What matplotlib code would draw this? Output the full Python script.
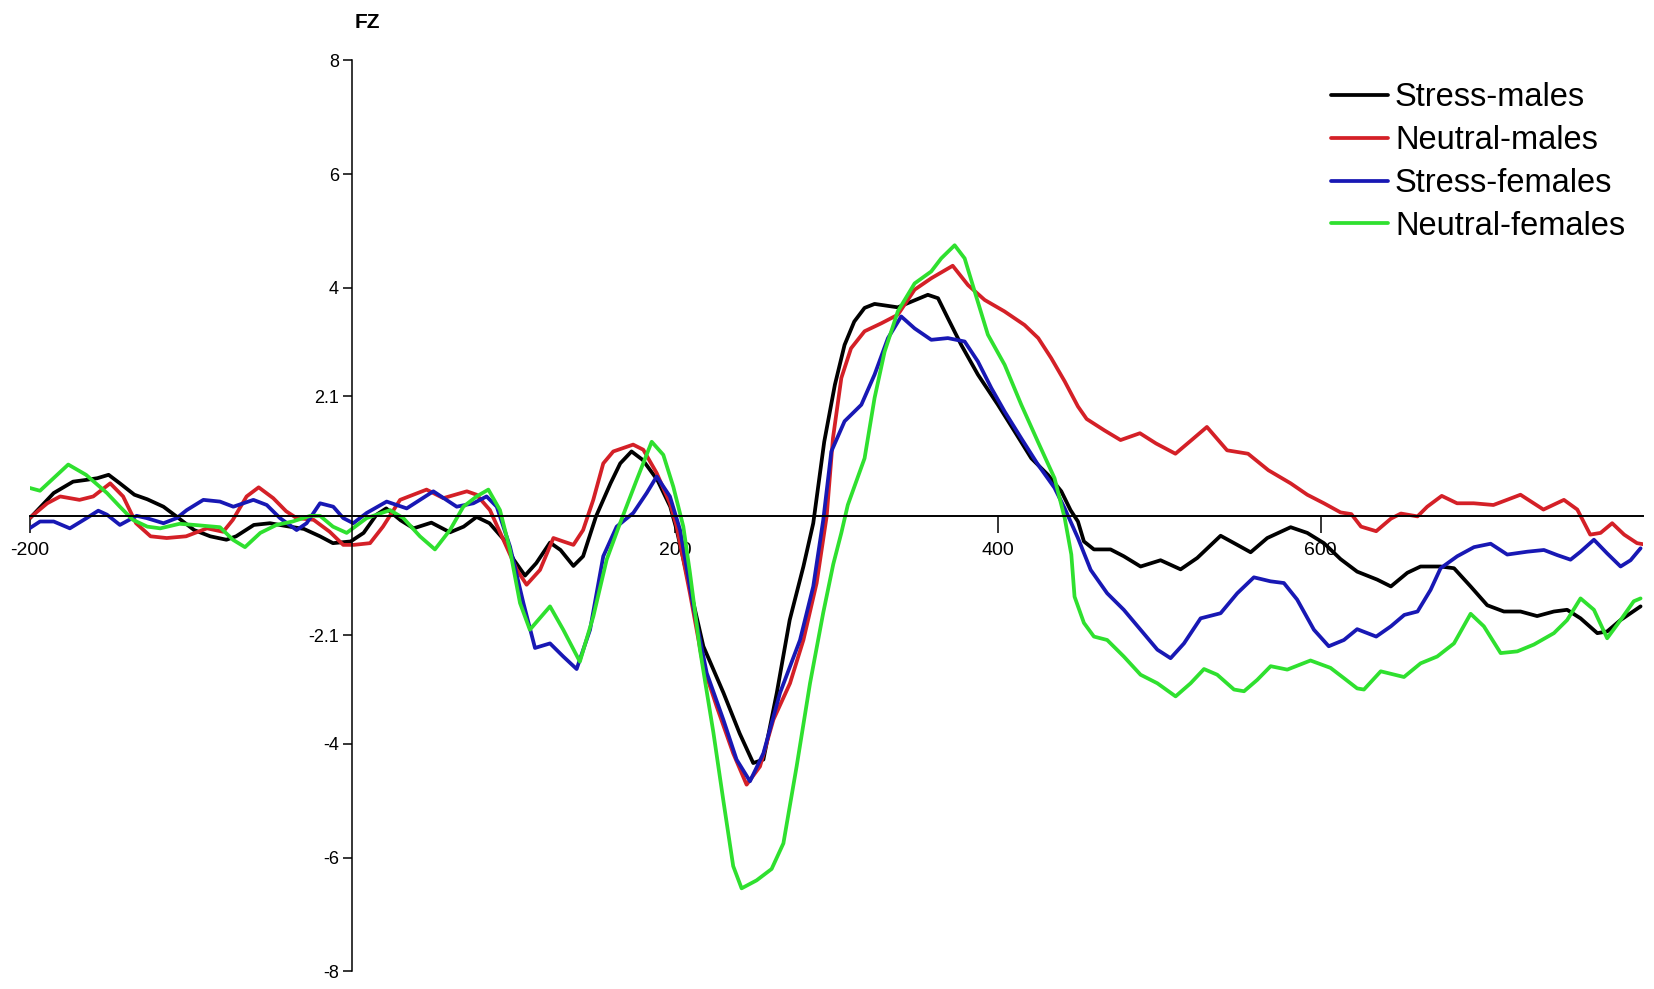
import matplotlib
matplotlib.use("Agg")
import matplotlib.pyplot as plt

plt.rcParams['font.family'] = ['Liberation Sans', 'DejaVu Sans']

# ERP at FZ, time in ms, amplitude in uV
t_stress_m = [-200, -185, -173, -165, -158, -151, -144, -135, -127, -117, -109, -98, -88, -78, -72,
              -61, -51, -41, -30, -20, -12, -1, 7, 15, 21, 30, 38, 49, 60.5, 69, 77, 85, 94, 100,
              107, 114, 122.5, 129, 137, 143, 151, 160, 166, 173, 180, 189, 197, 201, 209, 217.5,
              230, 240, 248.4, 254.7, 263, 271, 279.5, 285.6, 292.4, 299, 305, 311, 317.4, 323.6,
              338, 346.4, 356.6, 362.9, 369, 377.3, 387.6, 400, 410.4, 420.7, 431, 439.3, 445,
              449.6, 453.3, 459.5, 469.8, 478, 488.4, 500.8, 513.2, 523.5, 538, 548.3, 556.6,
              566.9, 581.4, 591.7, 602, 612.3, 622.6, 635, 643.5, 653.7, 661.9, 674.3, 682.6,
              692.9, 703.2, 713.5, 723.8, 734.1, 744.5, 752.7, 761, 771.4, 777.5, 785.8, 798.2]
v_stress_m = [-0.05, 0.4, 0.6, 0.63, 0.66, 0.72, 0.57, 0.37, 0.29, 0.16, -0.01, -0.25, -0.36, -0.42, -0.36,
              -0.16, -0.13, -0.18, -0.23, -0.36, -0.48, -0.45, -0.3, 0.02, 0.13, -0.08, -0.22, -0.12, -0.29,
              -0.19, -0.02, -0.13, -0.42, -0.77, -1.05, -0.83, -0.47, -0.6, -0.88, -0.71, -0.01, 0.57,
              0.92, 1.13, 0.98, 0.63, 0.16, -0.25, -1.24, -2.29, -3.11, -3.82, -4.34, -4.28, -3.11,
              -1.83, -0.89, -0.13, 1.3, 2.3, 3.0, 3.41, 3.65, 3.72, 3.66, 3.76, 3.88, 3.82, 3.47, 3.0,
              2.48, 1.95, 1.48, 1.01, 0.72, 0.43, 0.1, -0.1, -0.45, -0.59, -0.59, -0.71, -0.89, -0.78,
              -0.94, -0.74, -0.35, -0.51, -0.64, -0.39, -0.2, -0.3, -0.48, -0.76, -0.98, -1.12, -1.24,
              -1.0, -0.89, -0.89, -0.92, -1.24, -1.57, -1.68, -1.68, -1.76, -1.68, -1.65, -1.8, -2.06,
              -2.03, -1.83, -1.59]

t_neutral_m = [-200, -189, -181, -169, -160.5, -150, -142, -134, -125, -115, -103, -90, -80, -74, -65.5,
               -58, -49, -41, -34.5, -24, -14, -5.6, 1, 11, 19, 29.6, 46, 56.4, 71, 77, 85.3, 93.6,
               102, 108, 116.3, 124.6, 130.7, 137, 143, 149.3, 155.5, 161.7, 174, 180.3, 188.6,
               196.8, 201, 209.2, 217.5, 225.8, 236, 244.3, 252.6, 260.9, 271.2, 279.5, 287.7, 293.9,
               297.8, 303, 309, 317.4, 327.8, 338, 348.4, 358.7, 372, 381.5, 391.8, 404, 416.5, 425,
               433, 441.4, 449.6, 455, 466, 476, 488, 498, 510, 520, 529.5, 542, 555, 567.6, 581.4,
               591.7, 602, 612.3, 619, 625, 634.4, 643.5, 649.7, 660, 666, 675, 684.5, 694.8, 707,
               723.8, 738, 750.7, 759, 767, 773.4, 780.6, 788, 796, 800]
v_neutral_m = [-0.04, 0.22, 0.34, 0.28, 0.34, 0.57, 0.34, -0.13, -0.36, -0.39, -0.36, -0.22, -0.28, -0.07,
               0.34, 0.5, 0.31, 0.08, -0.04, -0.07, -0.28, -0.51, -0.51, -0.48, -0.19, 0.28, 0.46, 0.31,
               0.43, 0.37, 0.1, -0.42, -0.95, -1.21, -0.95, -0.39, -0.45, -0.51, -0.25, 0.28, 0.92,
               1.13, 1.25, 1.16, 0.75, 0.22, -0.19, -1.36, -2.64, -3.35, -4.17, -4.72, -4.4, -3.58,
               -2.94, -2.18, -1.18, -0.01, 1.36, 2.42, 2.94, 3.24, 3.38, 3.53, 3.97, 4.17, 4.39, 4.05,
               3.79, 3.59, 3.35, 3.12, 2.77, 2.36, 1.92, 1.7, 1.5, 1.33, 1.45, 1.27, 1.09, 1.33, 1.56,
               1.15, 1.09, 0.8, 0.57, 0.37, 0.22, 0.06, 0.03, -0.19, -0.27, -0.05, 0.04, -0.01, 0.16,
               0.35, 0.22, 0.22, 0.19, 0.37, 0.11, 0.28, 0.11, -0.33, -0.3, -0.13, -0.33, -0.48, -0.5]

t_stress_f = [-200, -193.5, -185, -175, -164.6, -157.4, -152, -144, -133.6, -127.4, -117, -108.8, -102.6,
              -92.3, -82, -73.7, -61.3, -53, -44.8, -34.5, -28.3, -20, -11.8, -5.6, 0.6, 8.9, 21.3,
              33.7, 50.2, 64.7, 75, 83.2, 89.5, 97.7, 106, 113.2, 122.5, 130.7, 139, 147.3, 155.5,
              163.8, 174.1, 182.4, 188.6, 196.8, 203.1, 211.3, 219.6, 229.9, 238.1, 246.4, 254.7,
              265, 277.4, 285.6, 291.8, 296.8, 305, 315.4, 323.6, 331.9, 340.1, 348.4, 358.7, 369,
              379.4, 387.6, 396, 404.2, 414.5, 424.8, 435.1, 441.4, 449.6, 457.5, 467.7, 478, 488.4,
              498.8, 507, 515.3, 525.6, 538, 548.3, 558.6, 568.9, 577.2, 585.4, 595.8, 605, 614.4,
              622.6, 634.4, 643.5, 651.8, 660, 668.1, 674.3, 684.6, 695, 705.3, 715.6, 728, 738.3,
              746.6, 754.8, 761, 769.3, 777.5, 785.8, 792, 798.2]
v_stress_f = [-0.22, -0.1, -0.1, -0.22, -0.04, 0.09, 0.02, -0.16, 0.0, -0.04, -0.13, -0.04, 0.1, 0.28,
              0.25, 0.16, 0.28, 0.19, -0.04, -0.25, -0.13, 0.22, 0.16, -0.04, -0.13, 0.05, 0.25, 0.13,
              0.43, 0.16, 0.22, 0.34, 0.16, -0.54, -1.53, -2.32, -2.24, -2.47, -2.69, -2.0, -0.71, -0.19,
              0.05, 0.4, 0.69, 0.34, -0.25, -1.59, -2.76, -3.58, -4.28, -4.66, -4.17, -3.11, -2.18,
              -1.24, -0.07, 1.13, 1.66, 1.95, 2.48, 3.12, 3.5, 3.29, 3.09, 3.12, 3.06, 2.71, 2.24, 1.83,
              1.36, 0.9, 0.49, 0.13, -0.39, -0.95, -1.36, -1.65, -2.0, -2.35, -2.5, -2.24, -1.8, -1.71,
              -1.36, -1.08, -1.15, -1.18, -1.47, -2.0, -2.29, -2.18, -1.99, -2.12, -1.94, -1.74, -1.68,
              -1.3, -0.92, -0.71, -0.55, -0.49, -0.68, -0.63, -0.6, -0.69, -0.77, -0.63, -0.42, -0.66,
              -0.89, -0.78, -0.57]

t_neutral_f = [-200, -193.5, -176, -165, -152, -144, -136, -127, -119, -107, -98, -82, -74, -66.5, -57,
               -47, -37, -26, -20, -12, -3.5, 8.9, 23.4, 31.6, 41.9, 51.2, 60.5, 68.8, 77, 84.3, 91.5,
               97.7, 103.9, 110, 122.5, 130.7, 141, 149.3, 157.6, 165.9, 176.2, 185.5, 192.7, 198.9,
               205.1, 209.2, 215.4, 223.7, 229.9, 236, 241.2, 250.5, 259.8, 267.1, 275.3, 283.6,
               291.8, 298, 303, 307, 317.4, 323.6, 329.8, 338, 348.4, 358.7, 364.9, 373.2, 379.4,
               385.6, 393.8, 404.2, 414.5, 424.8, 435.1, 441.4, 445.5, 447.5, 453.3, 459.5, 467.7,
               478, 488.4, 498.8, 510.1, 519.4, 527.7, 535.9, 546.3, 552.5, 560.7, 569, 579.3, 593.7,
               606.1, 614.4, 622.6, 626.8, 637.2, 651.6, 661.9, 672.2, 682.6, 692.9, 701.1, 711.5,
               721.8, 732.1, 744.5, 752.7, 761, 769.3, 777.5, 785.8, 794, 798.2]
v_neutral_f = [0.49, 0.44, 0.9, 0.72, 0.4, 0.16, -0.07, -0.19, -0.22, -0.14, -0.16, -0.2, -0.42, -0.55,
               -0.3, -0.16, -0.1, 0.0, 0.0, -0.19, -0.3, -0.04, 0.1, -0.04, -0.36, -0.59, -0.25, 0.16,
               0.34, 0.46, 0.1, -0.6, -1.53, -2.0, -1.59, -2.0, -2.56, -1.77, -0.77, -0.13, 0.63, 1.3,
               1.07, 0.51, -0.19, -1.0, -2.35, -3.8, -5.0, -6.15, -6.54, -6.4, -6.2, -5.75, -4.4, -2.94,
               -1.7, -0.85, -0.3, 0.19, 1.01, 2.07, 2.88, 3.59, 4.08, 4.29, 4.52, 4.75, 4.52, 3.94, 3.18,
               2.65, 1.95, 1.3, 0.66, -0.04, -0.68, -1.42, -1.88, -2.12, -2.18, -2.47, -2.79, -2.94,
               -3.17, -2.94, -2.69, -2.79, -3.05, -3.08, -2.88, -2.64, -2.7, -2.54, -2.67, -2.85, -3.03,
               -3.05, -2.73, -2.83, -2.59, -2.47, -2.24, -1.72, -1.94, -2.41, -2.38, -2.26, -2.06, -1.83,
               -1.45, -1.65, -2.15, -1.83, -1.5, -1.45]

labels = ['Stress-males', 'Neutral-males', 'Stress-females', 'Neutral-females']
colors = ['#000000', '#d42027', '#1818b4', '#2fe02f']

xticks = [-200, 200, 400, 600]
yticks = [8, 6, 4, 2.1, -2.1, -4, -6, -8]
ytick_labels = ['8', '6', '4', '2.1', '-2.1', '-4', '-6', '-8']

fig = plt.figure(figsize=(16.54, 9.89), dpi=100)
ax = fig.add_axes([0.01784, 0.0177, 0.9758, 0.9215])

series = [(t_stress_m, v_stress_m), (t_neutral_m, v_neutral_m),
          (t_stress_f, v_stress_f), (t_neutral_f, v_neutral_f)]
for (t, v), lab, col in zip(series, labels, colors):
    ax.plot(t, v, color=col, lw=2.7, label=lab, solid_joinstyle='round', solid_capstyle='round')

ax.set_xlim(-200, 800)
ax.set_ylim(-8, 8)

# axes cross at the origin
ax.spines['left'].set_position(('data', 0))
ax.spines['bottom'].set_position(('data', 0))
ax.spines['top'].set_visible(False)
ax.spines['right'].set_visible(False)
ax.spines['left'].set_linewidth(1.1)
ax.spines['bottom'].set_linewidth(1.4)

ax.set_xticks(xticks)
ax.set_xticklabels([str(x) for x in xticks])
ax.set_yticks(yticks)
ax.set_yticklabels(ytick_labels)
ax.tick_params(axis='x', direction='out', length=12, width=1.1, pad=7, labelsize=14)
ax.tick_params(axis='y', direction='out', length=6.5, width=1.1, pad=3, labelsize=13)

fig.text(367 / 1654, 1 - 22 / 989, 'FZ', ha='center', va='center', fontsize=15, fontweight='bold')

ax.legend(loc='upper right', bbox_to_anchor=(0.9825, 0.9166), bbox_transform=fig.transFigure,
          frameon=False, fontsize=23.5, handlelength=1.77, handletextpad=0.2,
          labelspacing=0.36, borderpad=0, borderaxespad=0)

fig.savefig('out.png', dpi=100)
